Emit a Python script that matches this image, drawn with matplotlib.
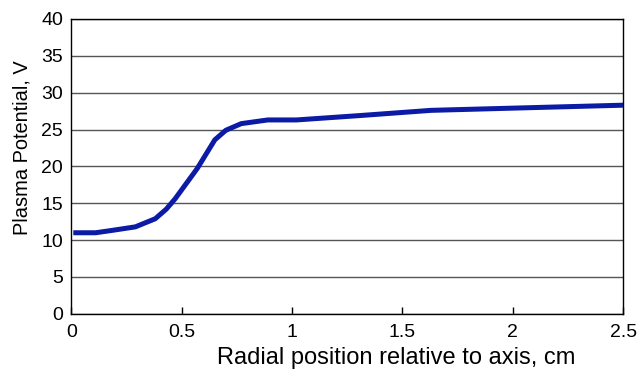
import numpy as np
import matplotlib
matplotlib.use("Agg")
import matplotlib.pyplot as plt

plt.rcParams['font.family'] = ['Liberation Sans', 'DejaVu Sans']

# radial position (cm) and plasma potential (V)
radius = [0.02, 0.11, 0.18, 0.29, 0.38, 0.43, 0.47, 0.57, 0.65, 0.70, 0.77,
          0.89, 1.02, 1.31, 1.63, 2.0, 2.5]
potential = [11.0, 11.0, 11.3, 11.8, 12.9, 14.2, 15.6, 19.7, 23.6, 24.9, 25.8,
             26.3, 26.3, 26.9, 27.6, 27.9, 28.3]

xticks = [0, 0.5, 1, 1.5, 2, 2.5]
xticklabels = ['0', '0.5', '1', '1.5', '2', '2.5']
yticks = np.arange(0, 41, 5)

fig = plt.figure(figsize=(6.43, 3.71), dpi=100)
ax = fig.add_axes([0.111, 0.154, 0.858, 0.795])

ax.plot(radius, potential, color='#0b1ba6', lw=3.6, solid_joinstyle='round')

ax.set_xlim(0, 2.5)
ax.set_ylim(0, 40)
ax.set_xticks(xticks)
ax.set_xticklabels(xticklabels)
ax.set_yticks(yticks)
ax.grid(axis='y', color='#555555', lw=1.0)
ax.set_axisbelow(True)

ax.tick_params(axis='x', direction='in', length=5, width=1, labelsize=14, pad=7)
ax.tick_params(axis='y', length=0, labelsize=14, pad=6)
for s in ax.spines.values():
    s.set_linewidth(1.0)

# labels sit a bit off-centre in the original
ax.set_xlabel('Radial position relative to axis, cm', fontsize=17, va='baseline')
ax.xaxis.set_label_coords(0.588, -0.171)
ax.set_ylabel('Plasma Potential, V', fontsize=14.4, va='baseline')
ax.yaxis.set_label_coords(-0.080, 0.563)

plt.savefig("out.png", dpi=100)
